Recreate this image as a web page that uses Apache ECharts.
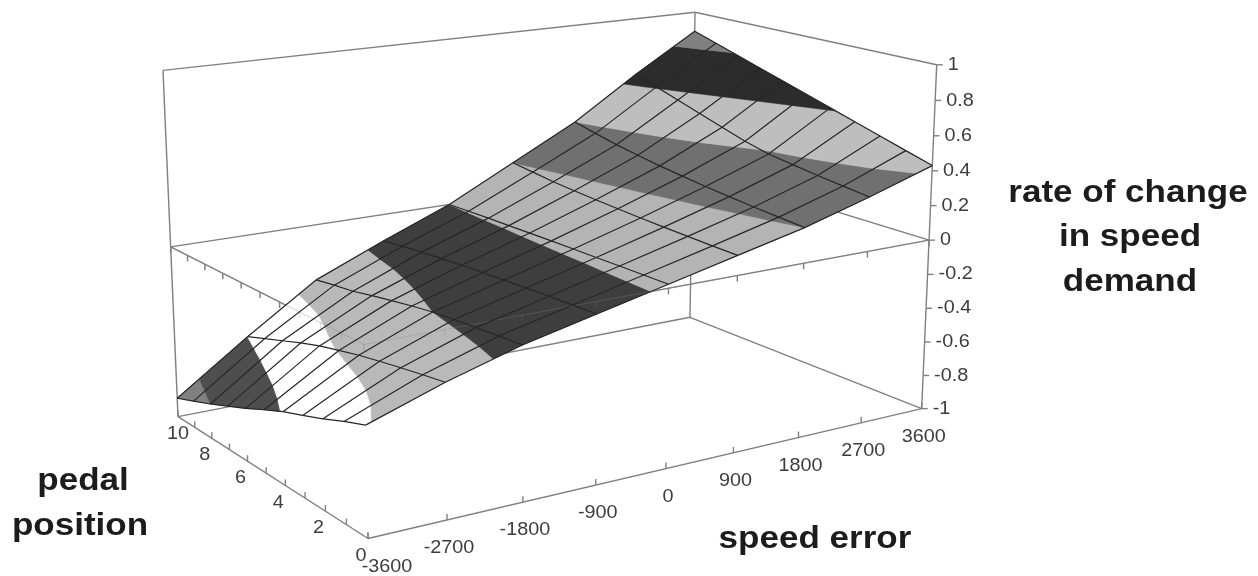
<!DOCTYPE html>
<html><head><meta charset="utf-8">
<style>html,body{margin:0;padding:0;background:#fff;overflow:hidden}#c{width:1258px;height:576px;filter:blur(0.7px)}</style>
<script src="https://cdn.jsdelivr.net/npm/echarts@6/dist/echarts.min.js"></script>
</head><body><div id="c"></div>
<script>
// ---- data ----
const speedError = [-3600,-2700,-1800,-900,0,900,1800,2700,3600];
const pedalPosition = [0,1,2,3,4,5,6,7,8,9,10];
const rateAtSpeedM3600 = [-.41,-.455,-.505,-.55,-.593,-.645,-.70,-.75,-.80,-.845,-.89];
const rateAtSpeedM2700 = [-.272,-.293,-.315,-.339,-.364,-.395,-.427,-.467,-.511,-.555,-.6];
const rateAtSpeedM1800 = [-.156,-.166,-.176,-.187,-.2,-.22,-.243,-.267,-.294,-.31,-.33];
const rateAtSpeedM900  = [-.067,-.072,-.078,-.085,-.092,-.10,-.109,-.12,-.131,-.145,-.16];
const rateAtSpeed0     = [.022,.021,.02,.018,.017,.015,.013,.01,.008,.004,0];
const rateAtSpeed900   = [.111,.115,.12,.125,.131,.139,.147,.157,.168,.184,.2];
const rateAtSpeed1800  = [.2,.212,.224,.239,.254,.272,.291,.314,.338,.368,.4];
const rateAtSpeed2700  = [.31,.328,.346,.367,.388,.424,.47,.515,.561,.607,.65];
const rateAtSpeed3600  = [.43,.475,.52,.565,.61,.655,.70,.745,.79,.835,.88];
const rateColumns = [rateAtSpeedM3600,rateAtSpeedM2700,rateAtSpeedM1800,rateAtSpeedM900,rateAtSpeed0,rateAtSpeed900,rateAtSpeed1800,rateAtSpeed2700,rateAtSpeed3600];
const speedTickLabels = ['-3600','-2700','-1800','-900','0','900','1800','2700','3600'];
const pedalTickLabels = ['0','2','4','6','8','10'];
const rateTickLabels = ['-1','-0.8','-0.6','-0.4','-0.2','0','0.2','0.4','0.6','0.8','1'];
const bandEdges = [-1,-.8,-.6,-.4,-.2,0,.2,.4,.6,.8,1];
const bandColors = ['#808080','#4e4e4e','#ffffff','#b9b9b9','#3e3e3e','#b4b4b4','#707070','#bebebe','#2c2c2c','#808080'];

// ---- camera: least-squares fit of a 3D->page projection to the box corners ----
const S0=-3600,S1=3600,P0=0,P1=10,Z0=-1,Z1=1;
const boxCorners = [
 [0,0,0,368,539],[1,0,0,921.7,408],[1,1,0,690,318],[0,1,0,178,416],
 [1,0,1,936.7,65],[1,1,1,695,12],[0,1,1,163,70.5]];
function solveCamera(){
  const rows=[],rhs=[];
  boxCorners.forEach(([u,v,w,x,y])=>{x/=1000;y/=1000;
    rows.push([u,v,w,1,0,0,0,0,-x*u,-x*v,-x*w]);rhs.push(x);
    rows.push([0,0,0,0,u,v,w,1,-y*u,-y*v,-y*w]);rhs.push(y);});
  const n=11,A=[];
  for(let i=0;i<n;i++){A.push(new Array(n+1).fill(0));
    for(let j=0;j<n;j++)rows.forEach(r=>A[i][j]+=r[i]*r[j]);
    rows.forEach((r,k)=>A[i][n]+=r[i]*rhs[k]);}
  for(let i=0;i<n;i++){let m=i;for(let k=i+1;k<n;k++)if(Math.abs(A[k][i])>Math.abs(A[m][i]))m=k;
    [A[i],A[m]]=[A[m],A[i]];
    for(let k=0;k<n;k++)if(k!==i){const f=A[k][i]/A[i][i];for(let j=i;j<=n;j++)A[k][j]-=f*A[i][j];}}
  return A.map((r,i)=>r[n]/r[i]);
}
const cam=solveCamera();
function project(s,p,z){
  const u=(s-S0)/(S1-S0),v=(p-P0)/(P1-P0),w=(z-Z0)/(Z1-Z0);
  const d=cam[8]*u+cam[9]*v+cam[10]*w+1;
  return [1000*(cam[0]*u+cam[1]*v+cam[2]*w+cam[3])/d,1000*(cam[4]*u+cam[5]*v+cam[6]*w+cam[7])/d];
}

// ---- surface cells split into value bands ----
function clip(poly,level,keepAbove){
  const out=[];
  for(let i=0;i<poly.length;i++){
    const a=poly[i],b=poly[(i+1)%poly.length];
    const ina=keepAbove?a[2]>=level:a[2]<=level,inb=keepAbove?b[2]>=level:b[2]<=level;
    if(ina)out.push(a);
    if(ina!==inb){const t=(level-a[2])/(b[2]-a[2]);out.push([a[0]+t*(b[0]-a[0]),a[1]+t*(b[1]-a[1]),level]);}
  }
  return out;
}
const surfacePolys=[];
for(let ip=pedalPosition.length-2;ip>=0;ip--){
 for(let is=speedError.length-2;is>=0;is--){
  const v=(i,j)=>[speedError[i],pedalPosition[j],rateColumns[i][j]];
  const q=[v(is,ip),v(is+1,ip),v(is+1,ip+1),v(is,ip+1)];
  bandColors.forEach((col,b)=>{
    let poly=clip(clip(q,bandEdges[b],true),bandEdges[b+1],false);
    if(poly.length>=3)surfacePolys.push({pts:poly.map(a=>project(a[0],a[1],a[2])),col});
  });
 }
}
const meshLines=[];
pedalPosition.forEach((p,j)=>meshLines.push(speedError.map((s,i)=>project(s,p,rateColumns[i][j]))));
speedError.forEach((s,i)=>meshLines.push(pedalPosition.map((p,j)=>project(s,p,rateColumns[i][j]))));

// ---- box frame and ticks ----
const frame=[
 [[S0,P1,Z0],[S0,P1,Z1]],[[S1,P1,Z0],[S1,P1,Z1]],[[S1,P0,Z0],[S1,P0,Z1]],
 [[S0,P1,Z1],[S1,P1,Z1]],[[S1,P1,Z1],[S1,P0,Z1]],
 [[S0,P0,Z0],[S1,P0,Z0]],[[S0,P0,Z0],[S0,P1,Z0]],[[S0,P1,Z0],[S1,P1,Z0]],[[S1,P1,Z0],[S1,P0,Z0]],
 [[S0,P1,0],[S1,P1,0]],[[S1,P1,0],[S1,P0,0]],
 [[S0,P1,0],[S0,P0,0]],[[S0,P0,0],[S1,P0,0]]];
const frameLines=frame.map(l=>l.map(a=>project(a[0],a[1],a[2])));
const zeroLines=frame.slice(-2).map(l=>l.map(a=>project(a[0],a[1],a[2])));
const TICK=6;
function down(pt,len){return [pt,[pt[0],pt[1]+len]];}
speedError.forEach(s=>{
  const f=project(s,P0,Z0);frameLines.push([f,[f[0],f[1]-TICK]]);
  const d=down(project(s,P0,0),TICK);frameLines.push(d);zeroLines.push(d);});
pedalPosition.forEach(p=>{
  const f=project(S0,p,Z0);frameLines.push([f,[f[0],f[1]-TICK]]);
  const d=down(project(S0,p,0),TICK);frameLines.push(d);zeroLines.push(d);});
bandEdges.forEach(z=>{const f=project(S1,P0,z);frameLines.push([f,[f[0]+6,f[1]]]);});

// ---- text ----
const TICK_FONT='18.5px "Liberation Sans",Arial,sans-serif',TITLE_FONT='bold 31px "Liberation Sans",Arial,sans-serif';
const TICK_STRETCH=1.07,TITLE_STRETCH=1.13;
const texts=[];
speedError.forEach((s,i)=>{const f=project(s,P0,Z0);
  texts.push({t:speedTickLabels[i],x:f[0]+(i===0?19:2),y:f[1]+28,font:TICK_FONT,fill:'#3c3c3c',align:'center',sx:TICK_STRETCH});});
pedalTickLabels.forEach(l=>{const f=project(S0,+l,Z0);
  texts.push({t:l,x:f[0]+(l==='10'?0:-7),y:f[1]+17,font:TICK_FONT,fill:'#3c3c3c',align:'center',sx:TICK_STRETCH});});
rateTickLabels.forEach((l,i)=>{const f=project(S1,P0,bandEdges[i]);
  texts.push({t:l,x:f[0]+11,y:f[1],font:TICK_FONT,fill:'#3c3c3c',align:'left',sx:TICK_STRETCH});});
[['rate of change',1128,193],['in speed',1130,237],['demand',1130,282],['pedal',83,481],['position',80,526],['speed error',815,539]]
 .forEach(a=>texts.push({t:a[0],x:a[1],y:a[2],font:TITLE_FONT,fill:'#1c1c1c',align:'center',sx:TITLE_STRETCH}));

// ---- chart ----
function idx(a){return a.map((_,i)=>[i]);}
const chart=echarts.init(document.getElementById('c'),null,{renderer:'canvas'});
function lineSeries(name,lines,color,width,opacity,z){
  return {type:'custom',name,coordinateSystem:'cartesian2d',silent:true,animation:false,z,clip:false,data:idx(lines),
   renderItem(_,api){const l=lines[api.value(0)];
     return {type:'polyline',shape:{points:l.map(q=>api.coord(q))},style:{stroke:color,lineWidth:width,fill:null,opacity}};}};
}
chart.setOption({
  animation:false,backgroundColor:'#fff',
  grid:{left:0,right:0,top:0,bottom:0},
  xAxis:{type:'value',min:0,max:1258,show:false},
  yAxis:{type:'value',min:0,max:576,inverse:true,show:false},
  series:[
   lineSeries('frame',frameLines,'#808080',1.4,1,1),
   {type:'custom',name:'surface',silent:true,animation:false,z:2,clip:false,data:idx(surfacePolys),
    renderItem(_,api){const p=surfacePolys[api.value(0)];
      return {type:'polygon',shape:{points:p.pts.map(q=>api.coord(q))},style:{fill:p.col,stroke:p.col,lineWidth:0.6}};}},
   lineSeries('zero',zeroLines,'#808080',1.1,0.3,3),
   lineSeries('mesh',meshLines,'#262626',1.2,1,4),
   {type:'custom',name:'labels',silent:true,animation:false,z:5,clip:false,data:idx(texts),
    renderItem(_,api){const t=texts[api.value(0)],c=api.coord([t.x,t.y]);
      return {type:'text',x:c[0],y:c[1],scaleX:t.sx,style:{text:t.t,x:0,y:0,font:t.font,fill:t.fill,align:t.align,verticalAlign:'middle'}};}}
  ]
});
</script></body></html>
